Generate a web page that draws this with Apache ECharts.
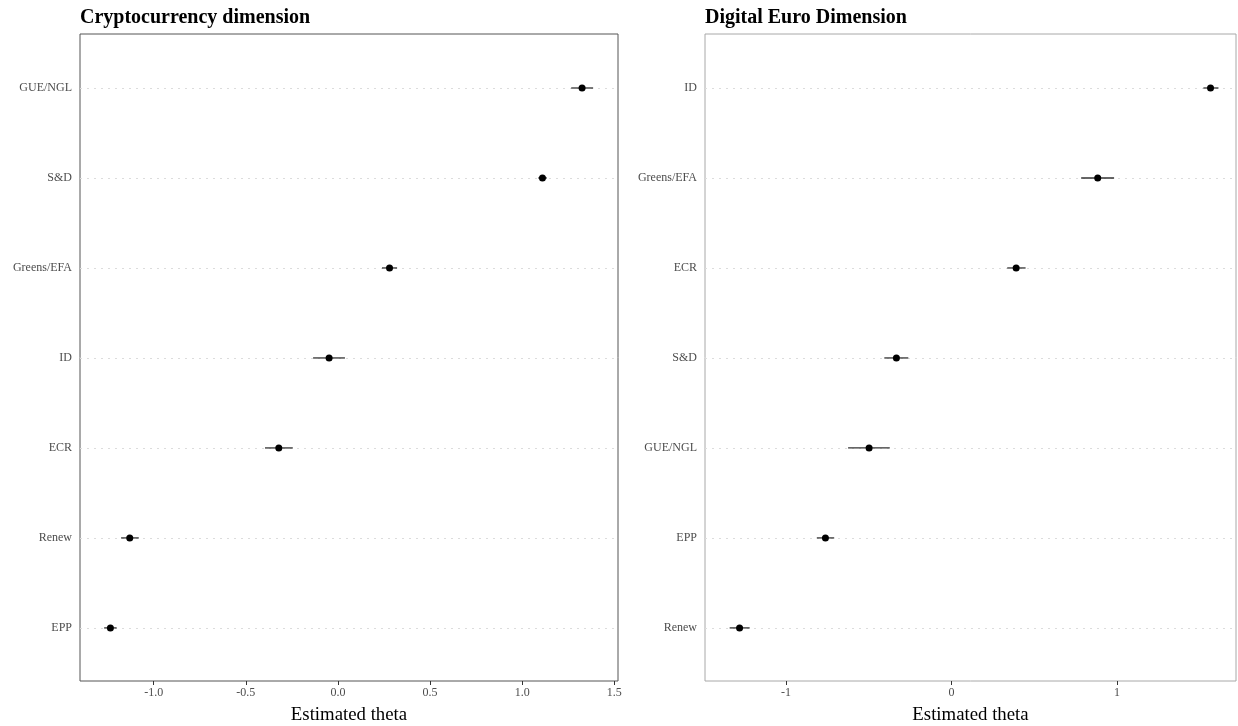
<!DOCTYPE html>
<html>
<head>
<meta charset="utf-8">
<script src="https://cdn.jsdelivr.net/npm/echarts@6/dist/echarts.min.js"></script>
<style>
  html, body { margin: 0; padding: 0; background: #fff; }
  #chart { width: 1238px; height: 726px; }
</style>
</head>
<body>
<div id="chart"></div>
<script>
// groups listed bottom -> top
var cryptoGroups = ['EPP', 'Renew', 'ECR', 'ID', 'Greens/EFA', 'S&D', 'GUE/NGL'];
var cryptoTheta  = [-1.235, -1.130, -0.321, -0.048, 0.280, 1.110, 1.325];
var cryptoLow    = [-1.269, -1.177, -0.396, -0.135, 0.239, 1.087, 1.266];
var cryptoHigh   = [-1.201, -1.081, -0.245, 0.038, 0.321, 1.134, 1.385];

var euroGroups = ['Renew', 'EPP', 'GUE/NGL', 'S&D', 'ECR', 'Greens/EFA', 'ID'];
var euroTheta  = [-1.281, -0.762, -0.498, -0.333, 0.391, 0.884, 1.566];
var euroLow    = [-1.341, -0.814, -0.625, -0.406, 0.337, 0.784, 1.523];
var euroHigh   = [-1.220, -0.709, -0.373, -0.261, 0.448, 0.983, 1.614];

var cryptoTicks = [-1.0, -0.5, 0.0, 0.5, 1.0, 1.5];
var euroTicks = [-1, 0, 1];

var FONT = 'Liberation Serif';
var idx = [0, 1, 2, 3, 4, 5, 6];

function pts(theta) {
  return theta.map(function (v, i) { return [v, i]; });
}
function bars(lo, hi) {
  return lo.map(function (v, i) { return [v, hi[i], i]; });
}
function renderBar(params, api) {
  var a = api.coord([api.value(0), api.value(2)]);
  var b = api.coord([api.value(1), api.value(2)]);
  return {
    type: 'line',
    shape: { x1: a[0], y1: a[1], x2: b[0], y2: b[1] },
    style: { stroke: '#333', lineWidth: 1.3 }
  };
}

function xAxis(gi, min, max, ticks, digits) {
  return {
    type: 'value', gridIndex: gi, min: min, max: max, position: 'bottom',
    name: 'Estimated theta', nameLocation: 'middle', nameGap: 25,
    nameTextStyle: { fontFamily: FONT, fontSize: 18.8, color: '#000' },
    axisLine: { show: false, onZero: false },
    axisTick: { show: true, length: 4, customValues: ticks, lineStyle: { color: '#333', width: 1 } },
    axisLabel: {
      customValues: ticks, fontFamily: FONT, fontSize: 12, color: '#4d4d4d', margin: 6,
      formatter: function (v) { return v.toFixed(digits); }
    },
    splitLine: { show: false }
  };
}
function yAxis(gi, groups) {
  return {
    type: 'value', gridIndex: gi, min: -0.59, max: 6.6, position: 'left',
    axisLine: { show: false, onZero: false },
    axisTick: { show: false, customValues: idx },
    axisLabel: {
      customValues: idx, fontFamily: FONT, fontSize: 12, color: '#4d4d4d', margin: 8,
      formatter: function (v) { return groups[Math.round(v)]; }
    },
    splitLine: { show: true, lineStyle: { color: '#dcdcdc', type: [2, 5], width: 1 } }
  };
}

var chart = echarts.init(document.getElementById('chart'));
chart.setOption({
  animation: false,
  backgroundColor: '#fff',
  title: [
    { text: 'Cryptocurrency dimension', left: 75, top: 3,
      textStyle: { fontFamily: FONT, fontWeight: 'bold', fontSize: 20, color: '#000' } },
    { text: 'Digital Euro Dimension', left: 700, top: 3,
      textStyle: { fontFamily: FONT, fontWeight: 'bold', fontSize: 20, color: '#000' } }
  ],
  grid: [
    { left: 80, right: 620, top: 34, bottom: 45, outerBoundsMode: 'none', containLabel: false,
      show: true, borderColor: '#555', borderWidth: 1 },
    { left: 705, right: 2, top: 34, bottom: 45, outerBoundsMode: 'none', containLabel: false,
      show: true, borderColor: '#a8a8a8', borderWidth: 1 }
  ],
  xAxis: [
    xAxis(0, -1.40, 1.52, cryptoTicks, 1),
    xAxis(1, -1.49, 1.72, euroTicks, 0)
  ],
  yAxis: [
    yAxis(0, cryptoGroups),
    yAxis(1, euroGroups)
  ],
  series: [
    { type: 'custom', xAxisIndex: 0, yAxisIndex: 0, renderItem: renderBar,
      encode: { x: [0, 1], y: 2 }, data: bars(cryptoLow, cryptoHigh) },
    { type: 'scatter', xAxisIndex: 0, yAxisIndex: 0, symbolSize: 7,
      itemStyle: { color: '#000', opacity: 1 }, data: pts(cryptoTheta) },
    { type: 'custom', xAxisIndex: 1, yAxisIndex: 1, renderItem: renderBar,
      encode: { x: [0, 1], y: 2 }, data: bars(euroLow, euroHigh) },
    { type: 'scatter', xAxisIndex: 1, yAxisIndex: 1, symbolSize: 7,
      itemStyle: { color: '#000', opacity: 1 }, data: pts(euroTheta) }
  ]
});
</script>
</body>
</html>
